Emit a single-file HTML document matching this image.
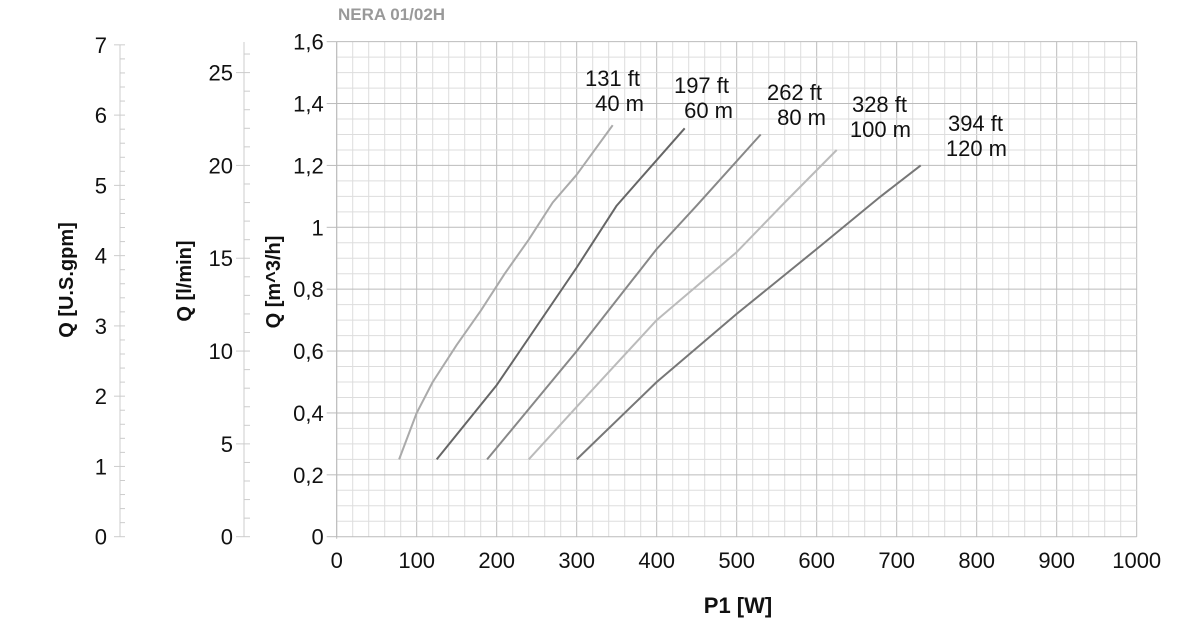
<!DOCTYPE html>
<html><head><meta charset="utf-8"><style>
body{margin:0;background:#fff;}
svg{display:block;font-family:"Liberation Sans",sans-serif;}
</style></head><body>
<svg id="chart" width="1200" height="640"></svg>
<script>
const powerTicks=[0,100,200,300,400,500,600,700,800,900,1000];
const flowTicks=[0,0.2,0.4,0.6,0.8,1,1.2,1.4,1.6];
const flowTickLabels=["0","0,2","0,4","0,6","0,8","1","1,2","1,4","1,6"];
const lminTicks=[0,5,10,15,20,25];
const gpmTicks=[0,1,2,3,4,5,6,7];
const curveNames=["40m","60m","80m","100m","120m"];
const curveFt=["131 ft","197 ft","262 ft","328 ft","394 ft"];
const curveM=["40 m","60 m","80 m","100 m","120 m"];
const curve40P=[78,100,120,150,180,210,240,270,300,345];
const curve40Q=[0.25,0.4,0.5,0.62,0.73,0.85,0.96,1.08,1.17,1.33];
const curve60P=[125,200,300,350,435];
const curve60Q=[0.25,0.49,0.87,1.07,1.32];
const curve80P=[188,300,400,450,530];
const curve80Q=[0.25,0.6,0.93,1.07,1.3];
const curve100P=[240,300,400,500,560,625];
const curve100Q=[0.25,0.42,0.7,0.92,1.08,1.25];
const curve120P=[300,400,500,600,680,730];
const curve120Q=[0.25,0.5,0.72,0.93,1.1,1.2];

const NS="http://www.w3.org/2000/svg";
const svg=document.getElementById('chart');
const X0=336.7,XS=0.8,Y0=536.7,YS=309.4;
const xs=p=>X0+p*XS, ys=q=>Y0-q*YS;
const ylmin=v=>ys(v*0.06), ygpm=v=>ys(v*0.2271);
function el(t,a,txt){const e=document.createElementNS(NS,t);for(const k in a)e.setAttribute(k,a[k]);if(txt!==undefined)e.textContent=txt;svg.appendChild(e);return e;}

// grid
for(let p=0;p<=1000;p+=20){const major=p%100===0;
 const g=el('line',{x1:xs(p),x2:xs(p),y1:ys(1.6),y2:ys(0),stroke:major?'#bbb':'#ddd','stroke-width':1});
 }
for(let i=0;i<=32;i++){const q=i*0.05;const major=i%4===0;
 const g=el('line',{x1:xs(0),x2:xs(1000),y1:ys(q),y2:ys(q),stroke:major?'#bbb':'#ddd','stroke-width':1});
 }
const ax=el('line',{x1:xs(0),x2:xs(0),y1:ys(1.6),y2:ys(0)+2,stroke:'#bbb'});


// x ticks
powerTicks.forEach(p=>{const t=el('text',{x:xs(p),y:568,'font-size':22,'text-anchor':'middle',fill:'#111'},String(p));
 });
flowTicks.forEach((q,i)=>{const t=el('text',{x:xs(0)-13,y:ys(q)+8,'font-size':22,'text-anchor':'end',fill:'#111'},flowTickLabels[i]);
 
 el('line',{x1:xs(0)-10,x2:xs(0),y1:ys(q),y2:ys(q),stroke:'#bbb'});});

// l/min axis
const LX=244;
const la=el('line',{x1:LX,x2:LX,y1:42,y2:ys(0),stroke:'#ccc'});

for(let v=0;v<=26;v++){el('line',{x1:v%5===0?LX-8:LX,x2:LX+6,y1:ylmin(v),y2:ylmin(v),stroke:'#ccc'});}
lminTicks.forEach(v=>{const t=el('text',{x:LX-11,y:ylmin(v)+8,'font-size':22,'text-anchor':'end',fill:'#111'},String(v));
 });
// gpm axis
const GX=120;
const ga=el('line',{x1:GX,x2:GX,y1:ygpm(7),y2:ygpm(0),stroke:'#ccc'});

for(let i=0;i<=35;i++){const v=i*0.2;el('line',{x1:i%5===0?GX-6:GX,x2:GX+5,y1:ygpm(v),y2:ygpm(v),stroke:'#ccc'});}
gpmTicks.forEach(v=>{const t=el('text',{x:GX-13,y:ygpm(v)+8,'font-size':22,'text-anchor':'end',fill:'#111'},String(v));
 });

// titles
function rot(x,y,txt,name){const t=el('text',{x:x,y:y,'font-size':20,'font-weight':'bold','text-anchor':'middle',fill:'#111',transform:`rotate(-90 ${x} ${y})`},txt);
 }
rot(73,280,'Q [U.S.gpm]','y-axis-title-gpm');
rot(191,281,'Q [l/min]','y-axis-title-lmin');
rot(280,282,'Q [m^3/h]','y-axis-title-m3h');
const xt=el('text',{x:738,y:613,'font-size':22,'font-weight':'bold','text-anchor':'middle',fill:'#111'},'P1 [W]');

const tt=el('text',{x:338,y:20,'font-size':17,'font-weight':'bold',fill:'#999'},'NERA 01/02H');


// curves
const Ps=[curve40P,curve60P,curve80P,curve100P,curve120P];
const Qs=[curve40Q,curve60Q,curve80Q,curve100Q,curve120Q];
const cols=['#aaa','#666','#888','#bbb','#777'];
const labEnd=[644,733,826,911,1007];
const labY=[86,93,100,112,131];
Ps.forEach((P,i)=>{
 const d=P.map((p,j)=>(j?'L':'M')+xs(p).toFixed(1)+' '+ys(Qs[i][j]).toFixed(1)).join(' ');
 const path=el('path',{d:d,fill:'none',stroke:cols[i],'stroke-width':2,'stroke-linejoin':'round'});
 
 
 const t1=el('text',{x:labEnd[i]-4,y:labY[i],'font-size':22,'text-anchor':'end',fill:'#111'},curveFt[i]);
 
 
 const t2=el('text',{x:labEnd[i],y:labY[i]+25,'font-size':22,'text-anchor':'end',fill:'#111'},curveM[i]);
 
 
});
</script>
</body></html>
